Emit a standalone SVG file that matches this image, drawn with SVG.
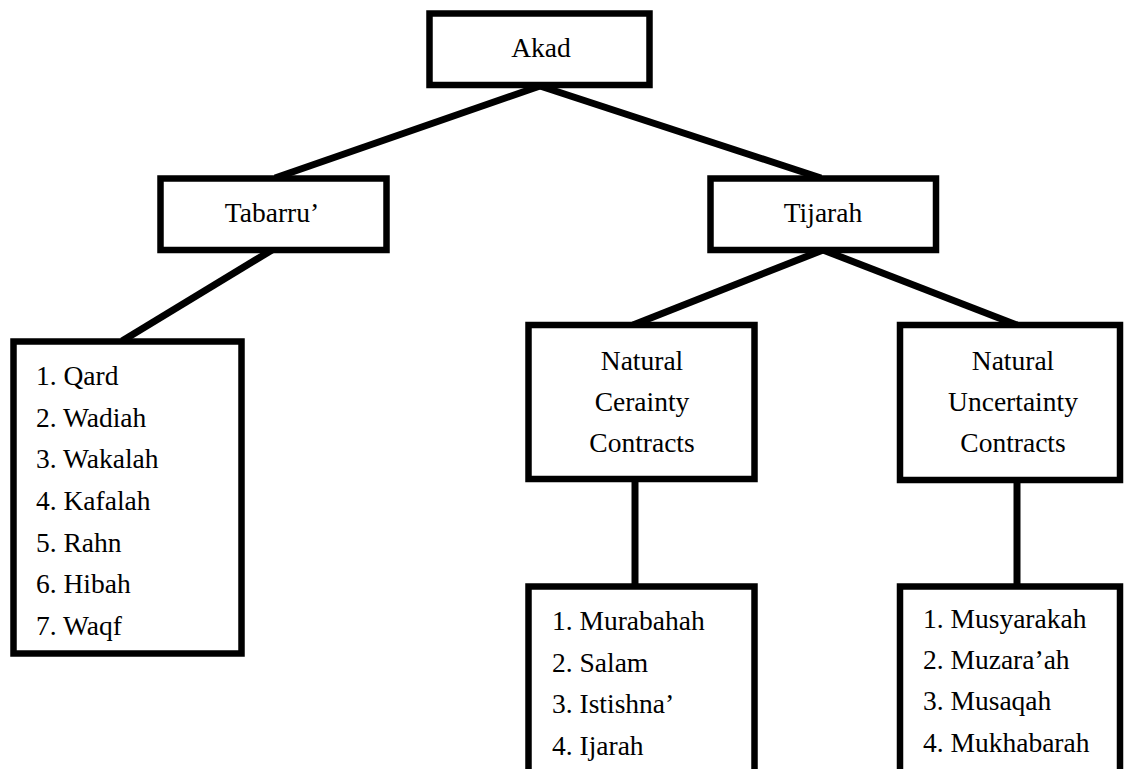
<svg xmlns="http://www.w3.org/2000/svg" width="1125" height="769" viewBox="0 0 1125 769">
<style>
.box{fill:#fff;stroke:#000;stroke-width:6.5}
.t{font-family:"Liberation Serif","Times New Roman",serif;font-size:27.5px;fill:#000}
.c{text-anchor:middle}
.ln{stroke:#000;stroke-width:7;fill:none}
</style>
<rect width="1125" height="769" fill="#fff"/>
<g id="connectors">
<line class="ln" x1="540" y1="86" x2="275" y2="178"/>
<line class="ln" x1="540" y1="86" x2="821" y2="178"/>
<line class="ln" x1="272" y1="250" x2="122" y2="341"/>
<line class="ln" x1="823" y1="250" x2="633" y2="325"/>
<line class="ln" x1="823" y1="250" x2="1017" y2="325"/>
<line class="ln" x1="635" y1="479" x2="635" y2="586"/>
<line class="ln" x1="1017" y1="480" x2="1017" y2="586"/>
</g>
<g id="akad">
<rect class="box" x="429.5" y="13.5" width="220" height="71.5"/>
<text class="t c" x="541" y="57">Akad</text>
</g>
<g id="tabarru">
<rect class="box" x="160.5" y="178.5" width="226" height="71.5"/>
<text class="t c" x="272" y="222">Tabarru’</text>
</g>
<g id="tijarah">
<rect class="box" x="710.5" y="178.5" width="225.5" height="71.5"/>
<text class="t c" x="823" y="222">Tijarah</text>
</g>
<g id="tabarru-list">
<rect class="box" x="13.5" y="341.5" width="228" height="312"/>
<text class="t" x="36" y="385">1. Qard</text>
<text class="t" x="36" y="427">2. Wadiah</text>
<text class="t" x="36" y="468">3. Wakalah</text>
<text class="t" x="36" y="510">4. Kafalah</text>
<text class="t" x="36" y="552">5. Rahn</text>
<text class="t" x="36" y="593">6. Hibah</text>
<text class="t" x="36" y="635">7. Waqf</text>
</g>
<g id="certainty">
<rect class="box" x="528.5" y="325" width="226" height="154"/>
<text class="t c" x="642" y="370">Natural</text>
<text class="t c" x="642" y="411">Cerainty</text>
<text class="t c" x="642" y="452">Contracts</text>
</g>
<g id="uncertainty">
<rect class="box" x="900" y="325" width="220" height="155"/>
<text class="t c" x="1013" y="370">Natural</text>
<text class="t c" x="1013" y="411">Uncertainty</text>
<text class="t c" x="1013" y="452">Contracts</text>
</g>
<g id="certainty-list">
<rect class="box" x="528.5" y="586.5" width="226" height="300"/>
<text class="t" x="552" y="630">1. Murabahah</text>
<text class="t" x="552" y="672">2. Salam</text>
<text class="t" x="552" y="713">3. Istishna’</text>
<text class="t" x="552" y="755">4. Ijarah</text>
</g>
<g id="uncertainty-list">
<rect class="box" x="900" y="586.5" width="220" height="300"/>
<text class="t" x="923" y="628">1. Musyarakah</text>
<text class="t" x="923" y="669">2. Muzara’ah</text>
<text class="t" x="923" y="710">3. Musaqah</text>
<text class="t" x="923" y="752">4. Mukhabarah</text>
</g>
</svg>
